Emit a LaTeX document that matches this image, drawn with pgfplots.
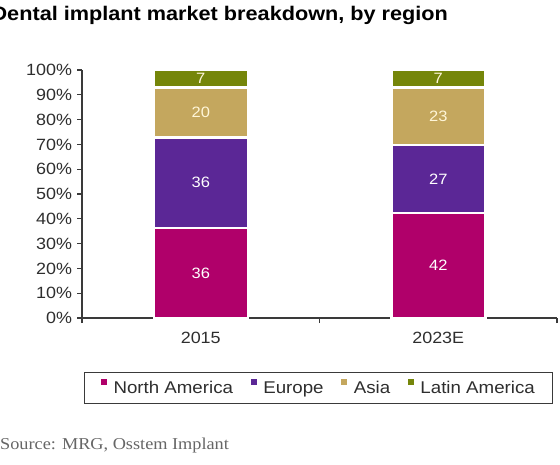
\documentclass[border=0pt]{standalone}
\usepackage{fontspec}
\setmainfont{Liberation Sans}[FakeStretch=1.1]
\newfontfamily\sourcefont{Liberation Serif}[FakeStretch=1.1]
\usepackage{pgfplots}
\usepackage{pgfplotstable}
\pgfplotsset{compat=1.18}

\definecolor{namerica}{HTML}{B0006A}
\definecolor{europe}{HTML}{5B2796}
\definecolor{asia}{HTML}{C4A75E}
\definecolor{latam}{HTML}{75860A}
\definecolor{axisgray}{HTML}{3A3A3A}
\definecolor{textgray}{HTML}{2E2E2E}
\definecolor{cream}{HTML}{FFF6D8}

% shares in percent, normalised so that each bar reaches 100%
\pgfplotstableread{
x   na     eu     as     la
0.5 36.36  36.36  20.20  7.07
1.5 42.42  27.27  23.23  7.07
}\shares

% printed values at the middle of each segment (dark segments)
\pgfplotstableread{
x   y      label
0.5 18.18  36
0.5 54.55  36
1.5 21.21  42
1.5 56.06  27
}\labelsdark

% printed values on the light segments
\pgfplotstableread{
x   y      label
0.5 82.83  20
0.5 96.46  7
1.5 81.31  23
1.5 96.46  7
}\labelslight

\begin{document}
\begin{tikzpicture}
\path[use as bounding box] (0pt,0pt) rectangle (560pt,-464pt);
\begin{scope}
  \clip (0pt,0pt) rectangle (560pt,-464pt);
  \node[anchor=base west, inner sep=0pt, text=black,
    font=\fontsize{19.7}{24}\selectfont\bfseries]
    at (-8.6pt,-20pt) {Dental implant market breakdown, by region};
\end{scope}

\begin{axis}[
    at={(82pt,-318pt)}, anchor=south west,
    scale only axis, width=475pt, height=248pt,
    xmin=0, xmax=2, ymin=0, ymax=100,
    enlargelimits=false,
    ybar stacked, bar width=94pt,
    axis x line*=bottom, axis y line*=left,
    axis line style={axisgray, line width=1.2pt},
    tick align=outside,
    ytick={0,10,...,100},
    yticklabel={\pgfmathprintnumber{\tick}\%},
    xtick={0.5,1.5}, xticklabels={2015,2023E},
    minor xtick={0,1,2},
    major x tick style={draw=none},
    tick style={axisgray, line width=1.2pt},
    major tick length=4.5pt, minor tick length=5pt,
    /pgf/number format/assume math mode=true,
    tick label style={font=\fontsize{16.3}{19}\selectfont, text=textgray},
    yticklabel style={xshift=-2pt},
    xticklabel style={yshift=-6pt},
    legend columns=4,
    legend cell align=left,
    legend style={at={(0.498,-0.282)}, anchor=center,
        draw=axisgray, line width=1pt,
        inner xsep=16pt, inner ysep=7pt,
        font=\fontsize{17}{20}\selectfont, text=textgray,
        nodes={inner sep=1.5pt},
        /tikz/every even column/.append style={column sep=16pt}},
    legend image code/.code={
        \fill[#1, draw=none] (0pt,2.5pt) rectangle (6pt,8.5pt);
        \path (10pt,0pt);
    },
]
\addplot[fill=namerica, draw=white, line width=2.5pt] table[x=x, y=na] \shares;
\addlegendentry{North America}
\addplot[fill=europe, draw=white, line width=2.5pt] table[x=x, y=eu] \shares;
\addlegendentry{Europe}
\addplot[fill=asia, draw=white, line width=2.5pt] table[x=x, y=as] \shares;
\addlegendentry{Asia}
\addplot[fill=latam, draw=white, line width=2.5pt] table[x=x, y=la] \shares;
\addlegendentry{Latin America}
\end{axis}

\begin{axis}[
    at={(82pt,-318pt)}, anchor=south west,
    scale only axis, width=475pt, height=248pt,
    xmin=0, xmax=2, ymin=0, ymax=100,
    hide axis,
    nodes near coords style={anchor=center, font=\fontsize{15}{18}\selectfont},
]
\addplot[only marks, mark=*, mark size=0pt, mark options={draw=none, fill=none},
    nodes near coords, point meta=explicit symbolic,
    nodes near coords style={text=white}]
    table[x=x, y=y, meta=label] \labelsdark;
\addplot[only marks, mark=*, mark size=0pt, mark options={draw=none, fill=none},
    nodes near coords, point meta=explicit symbolic,
    nodes near coords style={text=cream}]
    table[x=x, y=y, meta=label] \labelslight;
\end{axis}

\node[anchor=base west, inner sep=0pt, font=\sourcefont\fontsize{16.6}{20}\selectfont,
    text=black!60] at (0pt,-449pt) {Source: MRG, Osstem Implant};
\end{tikzpicture}
\end{document}
